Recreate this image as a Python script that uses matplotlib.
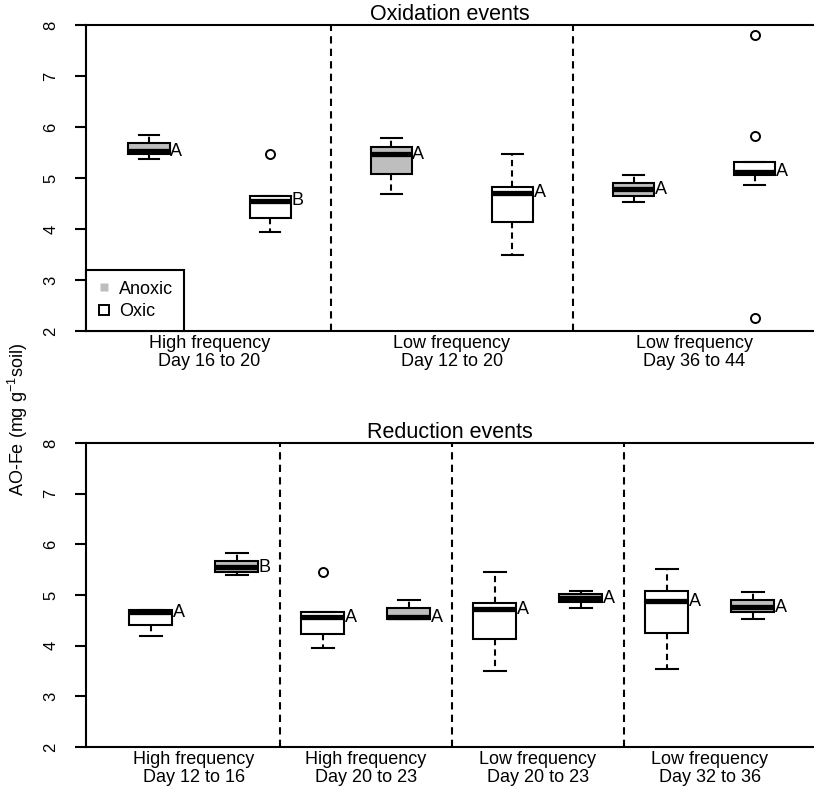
import matplotlib
matplotlib.use("Agg")
import matplotlib.pyplot as plt
from matplotlib.lines import Line2D

plt.rcParams['font.family'] = ['Liberation Sans', 'DejaVu Sans']
plt.rcParams['mathtext.fontset'] = 'custom'
plt.rcParams['mathtext.rm'] = 'Liberation Sans'
plt.rcParams['mathtext.it'] = 'Liberation Sans:italic'

# ---- Oxidation events (anoxic, oxic per period) ----
ox_groups = ["High frequency\nDay 16 to 20", "Low frequency\nDay 12 to 20", "Low frequency\nDay 36 to 44"]
ox_treat = ["Anoxic", "Oxic", "Anoxic", "Oxic", "Anoxic", "Oxic"]
ox_whislo = [5.38, 3.95, 4.69, 3.49, 4.52, 4.86]
ox_q1 = [5.47, 4.22, 5.08, 4.14, 4.65, 5.06]
ox_med = [5.52, 4.55, 5.47, 4.71, 4.78, 5.12]
ox_q3 = [5.68, 4.65, 5.61, 4.82, 4.90, 5.31]
ox_whishi = [5.85, 4.65, 5.78, 5.47, 5.06, 5.31]
ox_fliers = [[], [5.48], [], [], [], [7.80, 5.82, 2.25]]
ox_letters = ["A", "B", "A", "A", "A", "A"]

# ---- Reduction events (oxic, anoxic per period) ----
red_groups = ["High frequency\nDay 12 to 16", "High frequency\nDay 20 to 23",
              "Low frequency\nDay 20 to 23", "Low frequency\nDay 32 to 36"]
red_treat = ["Oxic", "Anoxic", "Oxic", "Anoxic", "Oxic", "Anoxic", "Oxic", "Anoxic"]
red_whislo = [4.19, 5.39, 3.95, 4.53, 3.50, 4.74, 3.54, 4.53]
red_q1 = [4.41, 5.45, 4.23, 4.53, 4.13, 4.86, 4.25, 4.66]
red_med = [4.66, 5.55, 4.56, 4.56, 4.72, 4.94, 4.88, 4.76]
red_q3 = [4.71, 5.67, 4.66, 4.74, 4.84, 5.02, 5.08, 4.90]
red_whishi = [4.71, 5.83, 4.66, 4.90, 5.45, 5.08, 5.51, 5.06]
red_fliers = [[], [], [5.45], [], [], [], [], []]
red_letters = ["A", "B", "A", "A", "A", "A", "A", "A"]

fill = {"Anoxic": "#bebebe", "Oxic": "white"}
LW = 1.5


def draw_panel(ax, title, groups, treat, whislo, q1, med, q3, whishi, fliers,
               letters, width, xlim):
    n = len(treat)
    pos = list(range(1, n + 1))
    stats = [dict(whislo=whislo[i], q1=q1[i], med=med[i], q3=q3[i],
                  whishi=whishi[i], fliers=fliers[i]) for i in range(n)]
    art = ax.bxp(stats, positions=pos, widths=width, patch_artist=True,
                 boxprops=dict(edgecolor="black", linewidth=LW),
                 medianprops=dict(color="black", linewidth=3.8, solid_capstyle="butt"),
                 whiskerprops=dict(color="black", linewidth=LW, linestyle=(0, (3, 2))),
                 capprops=dict(color="black", linewidth=LW),
                 flierprops=dict(marker="o", markerfacecolor="none",
                                 markeredgecolor="black", markersize=6.5,
                                 markeredgewidth=1.4))
    for patch, t in zip(art["boxes"], treat):
        patch.set_facecolor(fill[t])
        patch.set_zorder(3)
    for k in ("medians", "whiskers", "caps", "fliers"):
        for a in art[k]:
            a.set_zorder(4)
    for i in range(n):
        ax.text(pos[i] + width / 2 + 0.005, med[i], letters[i], ha="left",
                va="center", fontsize=13, zorder=5)
    # dashed separators between periods
    for s in range(1, len(groups)):
        ax.axvline(2 * s + 0.5, color="black", linewidth=LW,
                   linestyle=(0, (3.5, 2.5)), zorder=1)
    ax.set_xlim(*xlim)
    ax.set_ylim(2, 8)
    ax.set_yticks(range(2, 9))
    ax.tick_params(axis="y", direction="out", length=8, width=LW,
                   labelsize=12, labelrotation=90, pad=12)
    for lab in ax.get_yticklabels():
        lab.set_va("center")
    ax.set_xticks([2 * g + 1.5 for g in range(len(groups))])
    ax.set_xticklabels(groups, fontsize=13, linespacing=1.1)
    ax.tick_params(axis="x", length=0, pad=3)
    ax.spines["right"].set_visible(False)
    for sp in ("left", "top", "bottom"):
        ax.spines[sp].set_linewidth(LW)
    ax.set_title(title, fontsize=15.5, pad=2)


fig = plt.figure(figsize=(8.14, 7.97), dpi=100)
ax1 = fig.add_axes([86 / 814, 1 - 331 / 797, 1 - 86 / 814, (331 - 25) / 797])
ax2 = fig.add_axes([86 / 814, 1 - 747 / 797, 1 - 86 / 814, (747 - 443) / 797])

draw_panel(ax1, "Oxidation events", ox_groups, ox_treat, ox_whislo, ox_q1, ox_med,
           ox_q3, ox_whishi, ox_fliers, ox_letters, 0.34, (0.48, 6.49))
draw_panel(ax2, "Reduction events", red_groups, red_treat, red_whislo, red_q1, red_med,
           red_q3, red_whishi, red_fliers, red_letters, 0.5, (0.245, 8.71))

handles = [Line2D([], [], linestyle="none", marker="s", markersize=6,
                  markerfacecolor="#bebebe", markeredgecolor="none"),
           Line2D([], [], linestyle="none", marker="s", markersize=7,
                  markerfacecolor="white", markeredgecolor="black", markeredgewidth=1.4)]
leg = ax1.legend(handles, ["Anoxic", "Oxic"], loc="lower left", bbox_to_anchor=(0, 0),
                 borderaxespad=0, fancybox=False, edgecolor="black", framealpha=1,
                 fontsize=13, handlelength=0.8, handletextpad=0.45,
                 borderpad=0.6, labelspacing=0.3)
leg.get_frame().set_linewidth(LW)
leg.set_zorder(6)

fig.text(18 / 814, 1 - 420 / 797, r"AO-Fe (mg g$^{-1}$soil)", rotation=90,
         ha="center", va="center", fontsize=13)

fig.savefig("out.png", dpi=100)
